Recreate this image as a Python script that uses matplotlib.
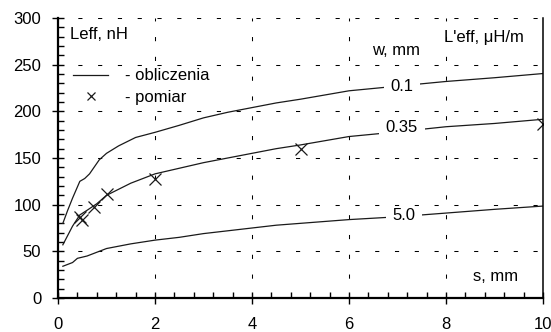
import numpy as np
import matplotlib
matplotlib.use("Agg")
import matplotlib.pyplot as plt
from matplotlib.ticker import MultipleLocator

plt.rcParams['font.family'] = ['Liberation Sans', 'DejaVu Sans']

# calculated curves, L_eff [nH] vs s [mm]
s_01 = [0.1, 0.2, 0.3, 0.45, 0.55, 0.65, 0.85, 1.0, 1.25, 1.6, 2.0, 2.5, 3.0,
        3.5, 4.0, 4.5, 5.0, 6.0, 7.0, 8.0, 9.0, 10.0]
L_01 = [80, 94, 107, 125, 128, 133, 148, 155, 163, 172, 177.5, 185, 193,
        199, 204, 209, 213, 222, 227, 232, 236, 240.5]

s_035 = [0.1, 0.2, 0.3, 0.45, 0.6, 0.8, 1.0, 1.5, 2.0, 2.5, 3.0, 3.5, 4.0,
         4.5, 5.0, 6.0, 7.0, 8.0, 9.0, 10.0]
L_035 = [57, 67, 77, 89, 94, 101, 110, 123, 133, 139, 145, 150, 155,
         160, 164, 173, 178, 183.5, 187, 191.5]

s_50 = [0.1, 0.2, 0.3, 0.4, 0.6, 0.8, 1.0, 1.5, 2.0, 2.5, 3.0, 3.5, 4.0,
        4.5, 5.0, 6.0, 7.0, 8.0, 9.0, 10.0]
L_50 = [34, 36, 38, 42.5, 45, 49, 53, 58, 62, 65, 69, 72, 75,
        78, 80, 84, 87, 91, 95, 98.5]

# measurements (w = 0.35 mm)
s_meas = [0.45, 0.5, 0.75, 1.0, 2.0, 5.0, 10.0]
L_meas = [87, 84, 98, 111, 128, 160, 186.5]

# curve labels: text, s, L
curve_labels = [("0.1", 7.09, 226.4), ("0.35", 7.09, 182.9), ("5.0", 7.13, 88.9)]

fs = 12

fig = plt.figure(figsize=(5.51, 3.32), dpi=100)
ax = fig.add_axes([58 / 551, 34 / 332, 485 / 551, 280 / 332])

lw = 0.9
ax.plot(s_01, L_01, color='#1a1a1a', lw=lw, label='- obliczenia')
ax.plot(s_035, L_035, color='#1a1a1a', lw=lw)
ax.plot(s_50, L_50, color='#1a1a1a', lw=lw)
ax.plot(s_meas, L_meas, ls='none', marker='x', ms=8, mew=0.9, color='#1a1a1a',
        label='- pomiar')

for txt, sx, ly in curve_labels:
    ax.text(sx, ly, txt, ha='center', va='center', fontsize=fs, zorder=5,
            bbox=dict(boxstyle='square,pad=0.4', fc='white', ec='none',
                      mutation_aspect=0.15))

ax.set_xlim(0, 10)
ax.set_ylim(0, 300)
ax.xaxis.set_major_locator(MultipleLocator(2))
ax.xaxis.set_minor_locator(MultipleLocator(0.4))
ax.yaxis.set_major_locator(MultipleLocator(50))
ax.yaxis.set_minor_locator(MultipleLocator(10))

ax.grid(True, which='major', color='black', lw=0.75, dashes=(4, 15))
ax.set_axisbelow(True)

ax.spines['top'].set_visible(False)
ax.spines['left'].set_linewidth(1.6)
ax.spines['bottom'].set_linewidth(1.6)
ax.spines['right'].set_linewidth(1.1)

ax.tick_params(which='major', direction='inout', length=8, width=1.0,
               labelsize=fs, top=False, right=False)
ax.tick_params(which='minor', direction='in', length=4, width=1.0,
               top=False, right=False)
ax.tick_params(axis='x', which='major', pad=9.5)
ax.tick_params(axis='y', which='major', pad=8)

ax.text(0.025, 281.8, 'Leff, nH', transform=ax.get_yaxis_transform(),
        ha='left', va='center', fontsize=fs)
ax.text(6.97, 265.7, 'w, mm', ha='center', va='center', fontsize=fs)
ax.text(8.78, 278.6, "L'eff, \u03bcH/m", ha='center', va='center', fontsize=fs)
ax.text(9.03, 22.8, 's, mm', ha='center', va='center', fontsize=fs)

leg = ax.legend(loc='upper left', bbox_to_anchor=(0.031, 0.82), frameon=False,
                fontsize=fs, handlelength=2.1, handletextpad=1.0,
                labelspacing=0.4, borderpad=0, borderaxespad=0,
                markerscale=0.7)

fig.savefig('out.png', dpi=100)
